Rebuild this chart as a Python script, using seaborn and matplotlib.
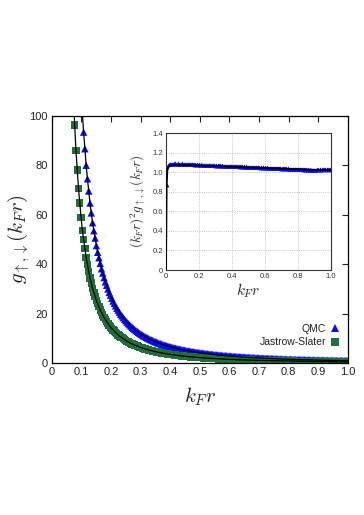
import numpy as np
import pandas as pd
import matplotlib
matplotlib.use("Agg")
import matplotlib.pyplot as plt
import seaborn as sns
from matplotlib.ticker import FuncFormatter, MultipleLocator

# ---------------- data ----------------
# sampling grid in k_F r
kfr = np.arange(1, 233) / 232.0

# (k_F r)^2 g(k_F r) for QMC
qmc_scaled = [
    0.870, 1.052, 1.071, 1.079, 1.083, 1.086, 1.084, 1.088, 1.087, 1.085,
    1.089, 1.086, 1.090, 1.087, 1.084, 1.088, 1.091, 1.086, 1.083, 1.087,
    1.085, 1.089, 1.086, 1.080, 1.084, 1.088, 1.083, 1.085, 1.087, 1.082,
    1.084, 1.080, 1.083, 1.086, 1.081, 1.079, 1.084, 1.082, 1.078, 1.083,
    1.080, 1.077, 1.082, 1.079, 1.076, 1.081, 1.078, 1.075, 1.079, 1.077,
    1.074, 1.078, 1.076, 1.073, 1.077, 1.075, 1.072, 1.076, 1.074, 1.071,
    1.075, 1.073, 1.070, 1.074, 1.072, 1.069, 1.073, 1.071, 1.068, 1.072,
    1.070, 1.067, 1.071, 1.069, 1.066, 1.070, 1.068, 1.065, 1.069, 1.067,
    1.064, 1.068, 1.066, 1.063, 1.067, 1.065, 1.062, 1.066, 1.064, 1.061,
    1.065, 1.063, 1.060, 1.064, 1.062, 1.059, 1.063, 1.061, 1.058, 1.062,
    1.060, 1.057, 1.061, 1.059, 1.056, 1.060, 1.058, 1.055, 1.059, 1.057,
    1.054, 1.058, 1.056, 1.053, 1.057, 1.055, 1.052, 1.056, 1.054, 1.051,
    1.055, 1.053, 1.050, 1.054, 1.052, 1.049, 1.053, 1.051, 1.048, 1.052,
    1.050, 1.047, 1.051, 1.049, 1.046, 1.050, 1.048, 1.045, 1.049, 1.047,
    1.044, 1.048, 1.046, 1.043, 1.047, 1.045, 1.042, 1.046, 1.044, 1.041,
    1.045, 1.043, 1.040, 1.044, 1.042, 1.039, 1.043, 1.041, 1.038, 1.042,
    1.040, 1.037, 1.041, 1.039, 1.036, 1.040, 1.038, 1.035, 1.039, 1.037,
    1.034, 1.038, 1.036, 1.033, 1.037, 1.035, 1.032, 1.036, 1.034, 1.031,
    1.035, 1.033, 1.030, 1.034, 1.032, 1.029, 1.033, 1.031, 1.028, 1.032,
    1.030, 1.027, 1.031, 1.029, 1.026, 1.030, 1.028, 1.025, 1.029, 1.027,
    1.024, 1.028, 1.026, 1.023, 1.027, 1.025, 1.022, 1.026, 1.024, 1.027,
    1.025, 1.028, 1.026, 1.029, 1.027, 1.030, 1.028, 1.026, 1.029, 1.027,
    1.030, 1.028, 1.031, 1.029, 1.027, 1.030, 1.028, 1.031, 1.029, 1.027,
    1.030, 1.028,
]

# (k_F r)^2 g(k_F r) for Jastrow-Slater
js_scaled = [
    0.462, 0.561, 0.572, 0.576, 0.579, 0.581, 0.578, 0.582, 0.580, 0.577,
    0.581, 0.579, 0.583, 0.580, 0.577, 0.581, 0.584, 0.579, 0.576, 0.580,
    0.578, 0.582, 0.579, 0.575, 0.580, 0.583, 0.578, 0.581, 0.579, 0.576,
    0.580, 0.577, 0.581, 0.578, 0.575, 0.579, 0.582, 0.577, 0.580, 0.578,
    0.576, 0.580, 0.577, 0.581, 0.578, 0.575, 0.579, 0.577, 0.580, 0.576,
    0.579, 0.577, 0.574, 0.578, 0.581, 0.576, 0.579, 0.577, 0.575, 0.578,
    0.576, 0.579, 0.577, 0.574, 0.578, 0.576, 0.580, 0.577, 0.575, 0.578,
    0.575, 0.578, 0.576, 0.579, 0.577, 0.574, 0.578, 0.576, 0.579, 0.575,
    0.577, 0.575, 0.578, 0.576, 0.573, 0.577, 0.575, 0.578, 0.574, 0.576,
    0.574, 0.577, 0.575, 0.572, 0.576, 0.574, 0.577, 0.573, 0.575, 0.574,
    0.576, 0.573, 0.575, 0.572, 0.576, 0.574, 0.571, 0.575, 0.573, 0.576,
    0.572, 0.575, 0.573, 0.571, 0.574, 0.572, 0.575, 0.571, 0.573, 0.572,
    0.574, 0.571, 0.573, 0.570, 0.574, 0.572, 0.569, 0.573, 0.571, 0.574,
    0.570, 0.573, 0.571, 0.569, 0.572, 0.570, 0.573, 0.569, 0.571, 0.570,
    0.572, 0.569, 0.571, 0.568, 0.572, 0.570, 0.567, 0.571, 0.569, 0.572,
    0.568, 0.571, 0.569, 0.567, 0.570, 0.568, 0.571, 0.567, 0.569, 0.568,
    0.570, 0.567, 0.569, 0.566, 0.570, 0.568, 0.565, 0.569, 0.567, 0.570,
    0.566, 0.569, 0.567, 0.565, 0.568, 0.566, 0.569, 0.565, 0.567, 0.566,
    0.568, 0.565, 0.567, 0.564, 0.568, 0.566, 0.563, 0.567, 0.565, 0.568,
    0.564, 0.567, 0.565, 0.563, 0.566, 0.564, 0.567, 0.563, 0.565, 0.564,
    0.566, 0.563, 0.565, 0.562, 0.566, 0.564, 0.561, 0.565, 0.563, 0.566,
    0.562, 0.565, 0.563, 0.561, 0.564, 0.562, 0.565, 0.561, 0.563, 0.562,
    0.564, 0.561, 0.563, 0.560, 0.564, 0.562, 0.559, 0.563, 0.561, 0.564,
    0.560, 0.563,
]

# smooth fit curve shown in the inset
fit_kfr = [0.0, 0.004, 0.009, 0.02, 0.05, 0.1, 0.2, 0.3, 0.4, 0.5, 0.6, 0.7, 0.8, 0.9, 1.0]
fit_scaled = [0.0, 0.86, 1.04, 1.065, 1.072, 1.072, 1.068, 1.062, 1.055, 1.048,
              1.042, 1.036, 1.030, 1.024, 1.020]

series_labels = ["QMC", "Jastrow-Slater"]

# g(k_F r) for the main panel
qmc_g = np.array(qmc_scaled) / kfr**2
js_g = np.array(js_scaled) / kfr**2

df = pd.DataFrame({
    "kfr": np.concatenate([kfr, kfr]),
    "g": np.concatenate([qmc_g, js_g]),
    "method": [series_labels[0]] * len(kfr) + [series_labels[1]] * len(kfr),
})

# ---------------- style ----------------
sns.set_style("white")
plt.rcParams["font.family"] = ["Liberation Sans", "DejaVu Sans"]
plt.rcParams["mathtext.fontset"] = "cm"

BLUE = "#0a0af0"
GREEN = "#1f6e3c"

fig = plt.figure(figsize=(3.64, 5.15), dpi=100)
ax = fig.add_axes([0.142, 0.2946, 0.814, 0.4808])

sns.scatterplot(data=df, x="kfr", y="g", hue="method", style="method",
                palette={series_labels[0]: BLUE, series_labels[1]: GREEN},
                markers={series_labels[0]: "^", series_labels[1]: "s"},
                s=28, linewidth=0, ax=ax, legend=True, zorder=2)
for lab in series_labels:
    sub = df[df["method"] == lab]
    sns.lineplot(x=sub["kfr"].values, y=sub["g"].values, color="black", lw=0.9,
                 sort=False, estimator=None, ax=ax, zorder=3, legend=False)

ax.set_xlim(0, 1.0)
ax.set_ylim(0, 100)
ax.xaxis.set_major_locator(MultipleLocator(0.1))
ax.yaxis.set_major_locator(MultipleLocator(20))
ax.xaxis.set_major_formatter(FuncFormatter(lambda v, p: "0" if abs(v) < 1e-9 else f"{v:.1f}"))
ax.yaxis.set_major_formatter(FuncFormatter(lambda v, p: f"{v:.0f}"))
ax.tick_params(direction="in", top=True, right=True, length=4, width=0.8,
               labelsize=8, colors="#222222", pad=3)
for sp in ax.spines.values():
    sp.set_color("black")
    sp.set_linewidth(0.9)
ax.set_xlabel(r"$k_F r$", fontsize=15, labelpad=6)
ax.set_ylabel(r"$g_{\uparrow,\downarrow}(k_F r)$", fontsize=15)
ax.yaxis.set_label_coords(-0.065, 0.5)

handles, labels = ax.get_legend_handles_labels()
leg = ax.legend(handles, labels, loc="lower right", bbox_to_anchor=(1.0, 0.035),
                frameon=False, markerfirst=False, fontsize=7.5,
                handletextpad=0.4, labelspacing=0.35, borderaxespad=0.3,
                handlelength=1.0)
for t in leg.get_texts():
    t.set_color("#222222")

# ---------------- inset ----------------
axi = fig.add_axes([0.456, 0.4757, 0.4533, 0.266])
sns.scatterplot(x=kfr, y=np.array(qmc_scaled), color=BLUE, marker="^", s=8,
                linewidth=0, ax=axi, zorder=2)
sns.lineplot(x=fit_kfr, y=fit_scaled, color="black", lw=1.3, sort=False,
             estimator=None, ax=axi, zorder=3)
axi.set_xlim(0, 1.0)
axi.set_ylim(0, 1.4)
axi.xaxis.set_major_locator(MultipleLocator(0.2))
axi.yaxis.set_major_locator(MultipleLocator(0.2))
fmt = FuncFormatter(lambda v, p: "0" if abs(v) < 1e-9 else f"{v:.1f}")
axi.xaxis.set_major_formatter(fmt)
axi.yaxis.set_major_formatter(fmt)
axi.tick_params(length=0, labelsize=5.5, colors="#333333", pad=2)
axi.grid(True, color="#b0b0b0", linestyle=":", linewidth=0.6)
for sp in axi.spines.values():
    sp.set_color("#333333")
    sp.set_linewidth(0.8)
axi.set_xlabel(r"$k_F r$", fontsize=11, labelpad=1)
axi.set_ylabel(r"$(k_F r)^2 g_{\uparrow,\downarrow}(k_F r)$", fontsize=9.5, labelpad=3)

fig.savefig("out.png", dpi=100)
